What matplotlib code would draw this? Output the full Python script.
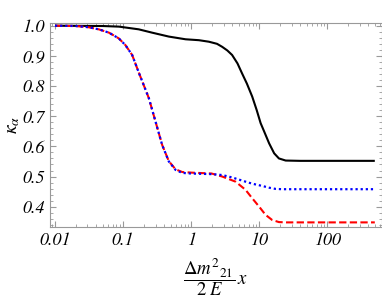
import matplotlib
matplotlib.use("Agg")
import matplotlib.pyplot as plt
from matplotlib.ticker import FixedLocator, MultipleLocator, LogLocator, NullFormatter
import numpy as np

plt.rcParams['mathtext.fontset'] = 'stix'
plt.rcParams['font.family'] = ['STIXGeneral', 'Liberation Serif', 'DejaVu Serif']

# ---- data ----
x_black = [0.01, 0.05, 0.087, 0.17, 0.267, 0.47, 0.83, 1.3, 1.82, 2.4, 2.86, 3.4, 4.0, 4.8, 5.6,
           6.6, 7.9, 9.2, 10.5, 11.8, 14.0, 16.6, 19.5, 24.5, 40, 100, 500]
y_black = [1.0, 0.999, 0.997, 0.988, 0.977, 0.964, 0.955, 0.952, 0.947, 0.940, 0.930, 0.918, 0.903, 0.875, 0.842,
           0.808, 0.765, 0.720, 0.677, 0.650, 0.610, 0.577, 0.560, 0.553, 0.552, 0.552, 0.552]

x_blue = [0.01, 0.02, 0.031, 0.044, 0.062, 0.0865, 0.108, 0.136, 0.17, 0.239, 0.30, 0.375, 0.47,
          0.59, 0.74, 1.0, 2.0, 2.86, 4.0, 6.3, 8.0, 11.0, 14.0, 17.4, 22, 40, 100, 500]
y_blue = [1.0, 0.999, 0.995, 0.988, 0.977, 0.958, 0.936, 0.903, 0.845, 0.760, 0.682, 0.605, 0.550,
          0.522, 0.512, 0.510, 0.508, 0.505, 0.497, 0.483, 0.476, 0.469, 0.463, 0.459, 0.458,
          0.458, 0.458, 0.458]

x_red = [0.01, 0.02, 0.031, 0.044, 0.062, 0.0865, 0.108, 0.136, 0.17, 0.239, 0.30, 0.375, 0.47,
         0.59, 0.74, 1.0, 2.0, 2.86, 4.5, 6.3, 7.9, 10.0, 12.4, 15.5, 19.5, 25, 40, 100, 500]
y_red = [1.0, 0.999, 0.995, 0.988, 0.977, 0.958, 0.936, 0.903, 0.845, 0.760, 0.682, 0.605, 0.551,
         0.524, 0.515, 0.513, 0.510, 0.500, 0.483, 0.456, 0.428, 0.400, 0.373, 0.356, 0.349,
         0.348, 0.348, 0.348, 0.348]

x_ticks = [0.01, 0.1, 1, 10, 100]
x_ticklabels = ['0.01', '0.1', '1', '10', '100']
y_ticks = [0.4, 0.5, 0.6, 0.7, 0.8, 0.9, 1.0]
y_ticklabels = ['0.4', '0.5', '0.6', '0.7', '0.8', '0.9', '1.0']

fig = plt.figure(figsize=(3.82, 2.97), dpi=100)
ax = fig.add_axes([50/382, 1-226.7/297, (381.5-50)/382, (226.7-23)/297])

ax.plot(x_black, y_black, color='black', lw=1.5, solid_capstyle='butt')
ax.plot(x_red, y_red, color='#ff0000', lw=1.5, ls=(0, (3.5, 1.6)))
ax.plot(x_blue, y_blue, color='#0000ff', lw=1.6, ls=(0, (1, 1.3)))

ax.set_xscale('log')
ax.set_xlim(0.00844, 627)
ax.set_ylim(0.3337, 1.009)

ax.xaxis.set_major_locator(FixedLocator(x_ticks))
ax.set_xticklabels(x_ticklabels, fontstyle='italic', family='STIXGeneral')
ax.xaxis.set_minor_locator(LogLocator(base=10, subs=np.arange(2, 10)))
ax.xaxis.set_minor_formatter(NullFormatter())
ax.yaxis.set_major_locator(FixedLocator(y_ticks))
ax.set_yticklabels(y_ticklabels, fontstyle='italic', family='STIXGeneral')
ax.yaxis.set_minor_locator(MultipleLocator(0.02))

gray = '#999999'
for s in ax.spines.values():
    s.set_color(gray)
    s.set_linewidth(0.8)
ax.tick_params(which='both', direction='in', top=True, right=True, color=gray)
ax.tick_params(which='major', length=4, width=0.8, labelsize=13, pad=4)
ax.tick_params(which='minor', length=2, width=0.6)

ax.set_ylabel(r'$\kappa_\alpha$', fontsize=14)
ax.yaxis.set_label_coords(-28/331.5, 0.5)
ax.set_xlabel(r'$\dfrac{\Delta {m^2}_{21}}{2\;E}\,x$', fontsize=13.5, labelpad=5)

fig.savefig('out.png', dpi=100)
